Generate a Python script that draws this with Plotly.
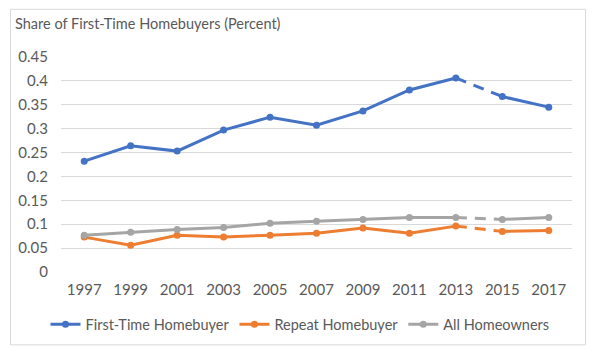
import plotly.graph_objects as go

years = ["1997", "1999", "2001", "2003", "2005", "2007", "2009", "2011", "2013", "2015", "2017"]
first_time = [0.232, 0.264, 0.253, 0.297, 0.324, 0.307, 0.337, 0.381, 0.406, 0.367, 0.345]
repeat = [0.073, 0.056, 0.077, 0.073, 0.077, 0.081, 0.092, 0.081, 0.096, 0.085, 0.087]
all_owners = [0.077, 0.083, 0.089, 0.093, 0.102, 0.106, 0.110, 0.114, 0.114, 0.110, 0.114]
y_ticks = [0, 0.05, 0.1, 0.15, 0.2, 0.25, 0.3, 0.35, 0.4, 0.45]
y_labels = ["0", "0.05", "0.1", "0.15", "0.2", "0.25", "0.3", "0.35", "0.4", "0.45"]

series = [
    ("First-Time Homebuyer", first_time, "#4472C4"),
    ("Repeat Homebuyer", repeat, "#ED7D31"),
    ("All Homeowners", all_owners, "#A5A5A5"),
]

FONT = "Lato, Open Sans, sans-serif"
TXT = "#595959"

idx = list(range(len(years)))
fig = go.Figure()
for name, vals, color in series:
    fig.add_trace(go.Scatter(x=idx[:9], y=vals[:9], mode="lines+markers", name=name,
                             legendgroup=name, line=dict(color=color, width=3),
                             marker=dict(color=color, size=7)))
    fig.add_trace(go.Scatter(x=idx[8:10], y=vals[8:10], mode="lines", showlegend=False,
                             legendgroup=name, line=dict(color=color, width=3, dash="11px,8px")))
    fig.add_trace(go.Scatter(x=idx[9:], y=vals[9:], mode="lines+markers", showlegend=False,
                             legendgroup=name, line=dict(color=color, width=3),
                             marker=dict(color=color, size=7)))

L, R, T, B = 61, 22, 57, 82
W, H = 594, 354
pw, ph = W - L - R, H - T - B

def px(x):
    return (x - L) / pw

def py(y):
    return (H - B - y) / ph

fig.update_layout(
    width=W, height=H,
    margin=dict(l=L, r=R, t=T - 1, b=B, autoexpand=False),
    paper_bgcolor="white", plot_bgcolor="white",
    font=dict(family=FONT, size=15, color=TXT),
    showlegend=True,
    legend=dict(orientation="h", x=px(300), xanchor="center", y=py(324), yanchor="middle",
                font=dict(size=14.5, color=TXT), bgcolor="rgba(0,0,0,0)",
                entrywidth=0, tracegroupgap=0),
    xaxis=dict(range=[-0.5, 10.5], tickvals=idx, ticktext=years, showgrid=False,
               zeroline=False, showline=False, ticks="", ticklabelstandoff=7,
               fixedrange=True),
    yaxis=dict(range=[0, 0.452], tickvals=y_ticks, ticktext=y_labels,
               showgrid=True, gridcolor="#D9D9D9", gridwidth=1, zeroline=False,
               showline=False, ticks="", ticklabelstandoff=12, fixedrange=True),
    annotations=[dict(text="Share of First-Time Homebuyers (Percent)", xref="paper", yref="paper",
                      x=px(13), y=py(25), xanchor="left", yanchor="middle", showarrow=False,
                      font=dict(size=14.5, color=TXT, family=FONT))],
    shapes=[dict(type="rect", xref="paper", yref="paper", x0=px(10.5), x1=px(585.5),
                 y0=py(344.5), y1=py(10.5), line=dict(color="#D9D9D9", width=1),
                 fillcolor="rgba(0,0,0,0)", layer="below")],
)

fig.write_html("out.html")
